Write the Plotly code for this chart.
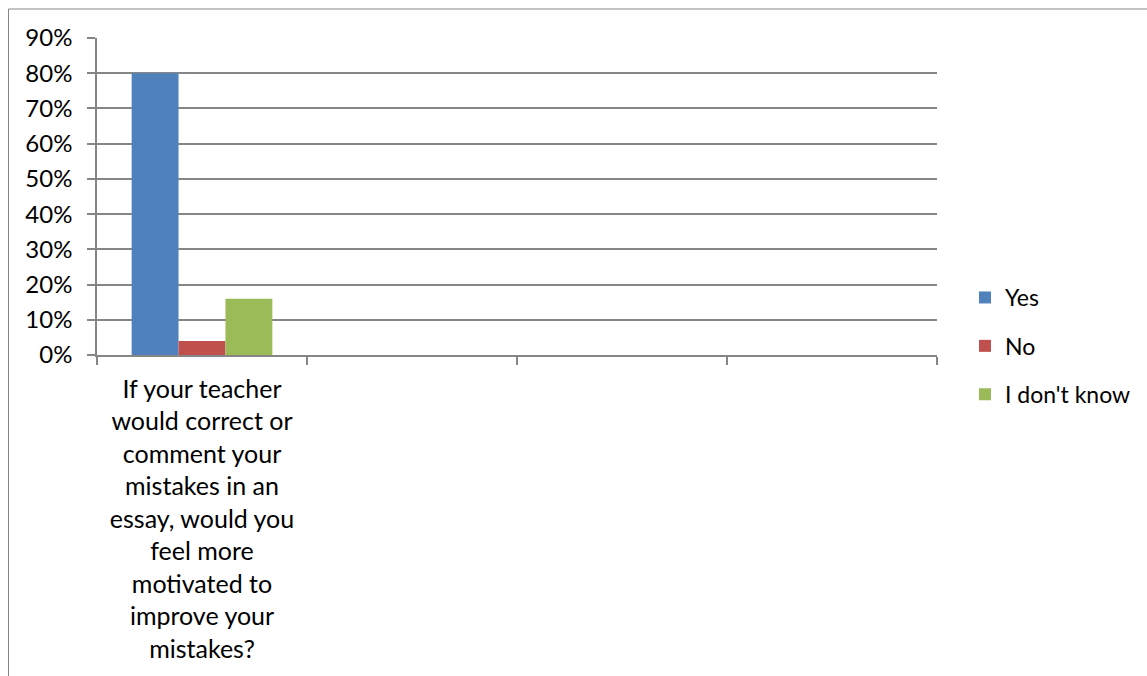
import plotly.graph_objects as go

categories = [
    "If your teacher<br>would correct or<br>comment your<br>mistakes in an<br>essay, would you<br>feel more<br>motivated to<br>improve your<br>mistakes?",
    " ", "  ", "   ",
]
series_names = ["Yes", "No", "I don't know"]
yes_vals = [0.80, None, None, None]
no_vals = [0.04, None, None, None]
dk_vals = [0.16, None, None, None]
colors = ["#4F81BD", "#C0504D", "#9BBB59"]
y_ticks = [0, 0.1, 0.2, 0.3, 0.4, 0.5, 0.6, 0.7, 0.8, 0.9]

FONT = "Lato"
GRID = "#868686"

fig = go.Figure()
for name, vals, col in zip(series_names, [yes_vals, no_vals, dk_vals], colors):
    fig.add_trace(go.Bar(x=categories, y=vals, name=name, marker_color=col,
                         marker_line_width=0, legendgroup=name))

L, R, T, B = 97, 937, 38, 355
W, H = 1147, 676
pw, ph = R - L, B - T

fig.update_layout(
    width=W, height=H,
    margin=dict(l=L, r=W - R, t=T, b=H - B, pad=0, autoexpand=False),
    paper_bgcolor="white", plot_bgcolor="white",
    font=dict(family=FONT, size=24, color="#000000"),
    barmode="group", bargap=0.33, bargroupgap=0,
    showlegend=True,
    legend=dict(x=(965 - L) / pw, y=(B - 276) / ph, xanchor="left", yanchor="top",
                traceorder="grouped", tracegroupgap=15.5,
                font=dict(family=FONT, size=23), itemwidth=30,
                bgcolor="rgba(0,0,0,0)"),
    xaxis=dict(type="category", showline=True, linecolor=GRID, linewidth=1.5,
               ticks="outside", tickson="boundaries", ticklen=8, tickcolor=GRID,
               tickwidth=1.5, showgrid=False, tickangle=0,
               ticklabelstandoff=11,
               tickfont=dict(family=FONT, size=25)),
    yaxis=dict(range=[0, 0.9], tickvals=y_ticks, tickformat=".0%",
               showline=True, linecolor=GRID, linewidth=1.5,
               ticks="outside", ticklen=8, tickcolor=GRID, tickwidth=1.5,
               showgrid=True, gridcolor=GRID, gridwidth=1.5,
               zeroline=False, ticklabelstandoff=10,
               tickfont=dict(family=FONT, size=24)),
    shapes=[dict(type="rect", xref="paper", yref="paper",
                 x0=(8.5 - L) / pw, x1=(1200 - L) / pw,
                 y0=(B - 800) / ph, y1=(B - 9) / ph,
                 line=dict(color=GRID, width=1), fillcolor="rgba(0,0,0,0)",
                 layer="below")],
)

fig.write_html("out.html")
